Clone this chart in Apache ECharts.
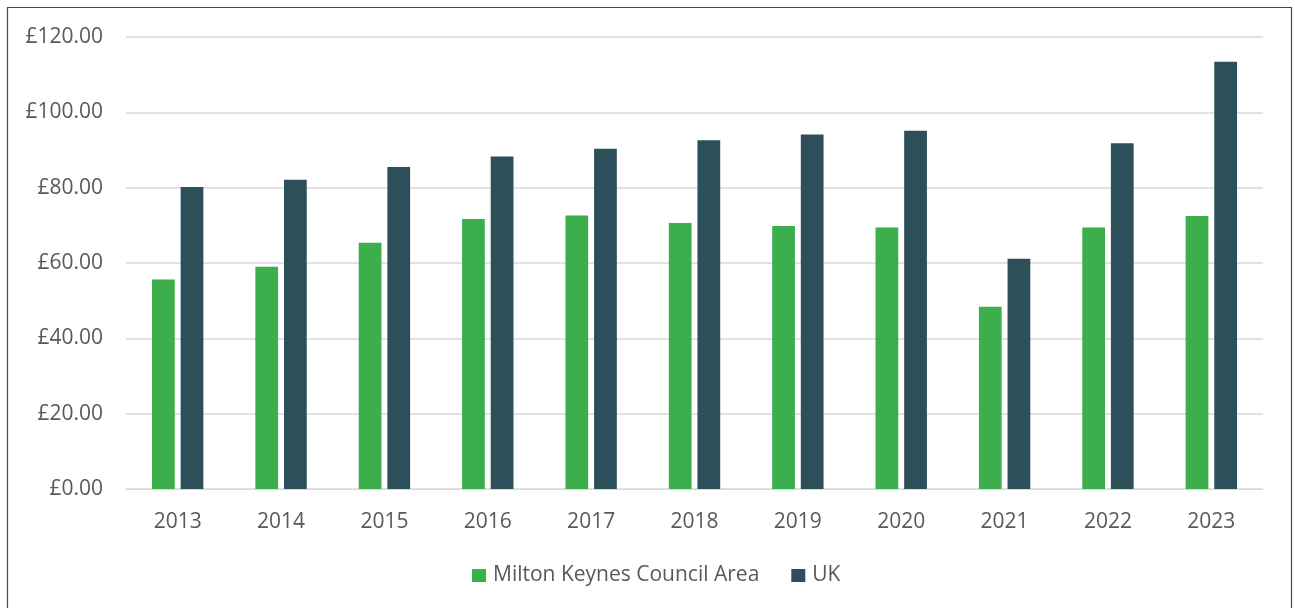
<!DOCTYPE html>
<html>
<head>
<meta charset="utf-8">
<script src="https://cdn.jsdelivr.net/npm/echarts@6/dist/echarts.min.js"></script>
<style>
  html, body { margin: 0; padding: 0; background: #fff; }
  #chart { width: 1295px; height: 608px; }
</style>
</head>
<body>
<div id="chart"></div>
<script>
// Years on the category axis
const years = ['2013', '2014', '2015', '2016', '2017', '2018', '2019', '2020', '2021', '2022', '2023'];
// Values in pounds
const miltonKeynes = [55.6, 59.0, 65.4, 71.7, 72.6, 70.6, 69.8, 69.4, 48.4, 69.4, 72.5];
const uk = [80.2, 82.1, 85.5, 88.3, 90.3, 92.6, 94.1, 95.1, 61.1, 91.8, 113.4];
// Value axis ticks
const yMin = 0, yMax = 120, yStep = 20;

const textColor = '#595959';
const fontFamily = '"Open Sans", "DejaVu Sans", sans-serif';
const fontSize = 21;

const chart = echarts.init(document.getElementById('chart'), null, { renderer: 'canvas' });

chart.setOption({
  animation: false,
  backgroundColor: '#ffffff',
  textStyle: { fontFamily: fontFamily, color: textColor },
  graphic: [{
    type: 'rect',
    shape: { x: 7.5, y: 7.5, width: 1284, height: 620 },
    style: { fill: 'none', stroke: '#4a4a4a', lineWidth: 1.2 },
    silent: true
  }],
  grid: { left: 126, right: 32, top: 37, bottom: 119, containLabel: false },
  legend: {
    bottom: 17,
    left: 467,
    itemWidth: 14,
    itemHeight: 13,
    itemGap: 32,
    icon: 'rect',
    textStyle: { fontFamily: fontFamily, fontSize: fontSize, color: textColor, padding: [0, 0, 0, 2] },
    data: ['Milton Keynes Council Area', 'UK']
  },
  xAxis: {
    type: 'category',
    data: years,
    axisLine: { show: true, lineStyle: { color: '#d9d9d9', width: 1 } },
    axisTick: { show: false },
    axisLabel: { margin: 23, fontSize: fontSize, color: textColor, fontFamily: fontFamily }
  },
  yAxis: {
    type: 'value',
    min: yMin,
    max: yMax,
    interval: yStep,
    axisLine: { show: false },
    axisTick: { show: false },
    splitLine: { lineStyle: { color: '#d9d9d9', width: 1.5 } },
    axisLabel: {
      margin: 23,
      fontSize: fontSize,
      color: textColor,
      fontFamily: fontFamily,
      formatter: v => '£' + v.toFixed(2)
    }
  },
  series: [
    {
      name: 'Milton Keynes Council Area',
      type: 'bar',
      data: miltonKeynes,
      barWidth: '22%',
      barGap: '26%',
      itemStyle: { color: '#3cae4c' }
    },
    {
      name: 'UK',
      type: 'bar',
      data: uk,
      barWidth: '22%',
      itemStyle: { color: '#2c4f59' }
    }
  ]
});
</script>
</body>
</html>
